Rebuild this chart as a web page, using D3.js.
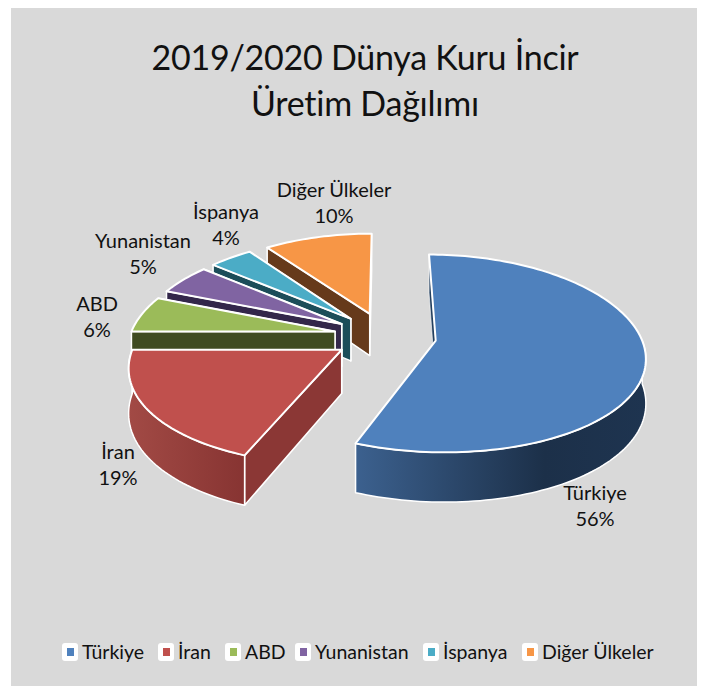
<!DOCTYPE html>
<html><head><meta charset="utf-8">
<script src="https://cdn.jsdelivr.net/npm/d3@7"></script>
<style>html,body{margin:0;padding:0;background:#fff}svg{display:block}text{font-family:Lato,"Open Sans",sans-serif;fill:#111}</style>
</head><body><svg id="c" width="707" height="691"></svg>
<script>
const titleLines = ["2019/2020 Dünya Kuru İncir", "Üretim Dağılımı"];
const categories = ["Türkiye", "İran", "ABD", "Yunanistan", "İspanya", "Diğer Ülkeler"];
const shares = [56, 19, 6, 5, 4, 10];
const topColors = ["#4f81bd", "#c0504d", "#9bbb59", "#8064a2", "#4bacc6", "#f79646"];
const sideColors = ["#24405f", "#8b3735", "#404c22", "#33274a", "#1c4d59", "#663a1b"];
const wallLight = ["#3c618f", "#a24a45", "#5d7234", "#4d3c62", "#2d6878", "#94592a"];
const wallDark = ["#1c3049", "#873432", "#404c22", "#33274a", "#1c4d59", "#663a1b"];
// layout only
const labelAt = [[595, 500], [118, 459], [97, 311], [143, 248], [226, 219], [334, 197]];
const legendX = [62, 158, 225, 295, 423, 522];

const svg = d3.select("#c");
svg.append("rect").attr("x", 11).attr("y", 8).attr("width", 686).attr("height", 678).attr("fill", "#d9d9d9");

const pie = d3.pie().sort(null).startAngle(0).endAngle(2 * Math.PI);
const arcs = pie(shares);
const xs = d3.scaleLinear().domain([0, 1]).range([385, 590]);
const ys = d3.scaleLinear().domain([0, 1]).range([336, 240]);
const perspX = 0.15, perspY = 0.13, explode = 0.25, depth = 43;

function project(X, Y, h) {
  const sx = 1 / (1 + perspX * Y), sy = 1 / (1 + perspY * Y);
  return [xs(X * sx), ys(Y * sy) + h * sy];
}
const defs = svg.append("defs");
const line = d3.line();

const order = [5, 4, 3, 2, 1, 0];
order.forEach(i => {
  const a = arcs[i], mid = (a.startAngle + a.endAngle) / 2;
  const ox = explode * Math.sin(mid), oy = explode * Math.cos(mid);
  const pt = (t, r, h) => project(ox + r * Math.sin(t), oy + r * Math.cos(t), h);
  const n = Math.max(8, Math.round((a.endAngle - a.startAngle) * 40));
  const ang = d3.range(n + 1).map(k => a.startAngle + (a.endAngle - a.startAngle) * k / n);
  const g = svg.append("g").attr("stroke", "#fff").attr("stroke-linejoin", "round");
  const side = t => g.append("path")
    .attr("d", line([pt(t, 0, 0), pt(t, 1, 0), pt(t, 1, depth), pt(t, 0, depth)]) + "Z")
    .attr("fill", sideColors[i]).attr("stroke-width", i === 0 ? 0.6 : 1.5);
  side(a.endAngle); side(a.startAngle);
  const front = ang.filter(t => Math.cos(t) < 0.02);
  if (front.length > 1) {
    const id = "w" + i;
    const gr = defs.append("linearGradient").attr("id", id);
    gr.append("stop").attr("offset", "0").attr("stop-color", wallLight[i]);
    if (i === 0) gr.append("stop").attr("offset", "0.65").attr("stop-color", wallDark[i]);
    gr.append("stop").attr("offset", "1").attr("stop-color", i === 0 ? "#1e3450" : wallDark[i]);
    const poly = front.map(t => pt(t, 1, 0)).concat(front.slice().reverse().map(t => pt(t, 1, depth)));
    g.append("path").attr("d", line(poly) + "Z")
      .attr("fill", `url(#${id})`).attr("stroke-width", 1.5);
  }
  const topPoly = [pt(0, 0, 0)].concat(ang.map(t => pt(t, 1, 0)));
  g.append("path").attr("d", line(topPoly) + "Z").attr("fill", topColors[i]).attr("stroke-width", 2);
});

const tg = svg.append("g").attr("text-anchor", "middle").attr("font-size", 34).attr("letter-spacing", -0.25);
titleLines.forEach((t, i) => tg.append("text").attr("x", 365).attr("y", 70 + i * 46).text(t));

const lg = svg.append("g").attr("text-anchor", "middle").attr("font-size", 20);
categories.forEach((c, i) => {
  const t = lg.append("text");
  t.append("tspan").attr("x", labelAt[i][0]).attr("y", labelAt[i][1]).text(c);
  t.append("tspan").attr("x", labelAt[i][0]).attr("y", labelAt[i][1] + 26).text(d3.format(".0f")(shares[i]) + "%");
});

const leg = svg.append("g").attr("font-size", 19.5);
categories.forEach((c, i) => {
  const x = legendX[i];
  leg.append("rect").attr("x", x).attr("y", 643).attr("width", 16).attr("height", 18).attr("rx", 3).attr("fill", "#fff");
  leg.append("rect").attr("x", x + 5).attr("y", 648).attr("width", 7).attr("height", 8).attr("fill", topColors[i]);
  leg.append("text").attr("x", x + 20).attr("y", 659).text(c);
});
</script></body></html>
